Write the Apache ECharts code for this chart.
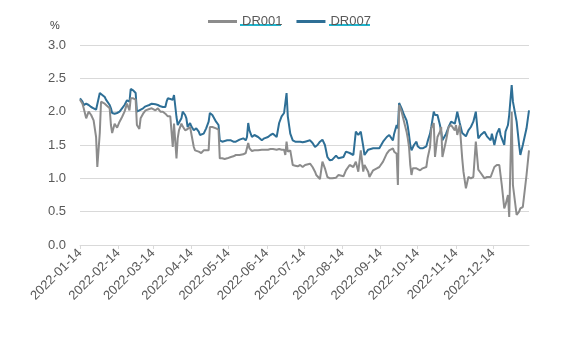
<!DOCTYPE html>
<html>
<head>
<meta charset="utf-8">
<script src="https://cdn.jsdelivr.net/npm/echarts@6/dist/echarts.min.js"></script>
<style>html,body{margin:0;padding:0;background:#fff;}#c{width:571px;height:337px;}</style>
</head>
<body>
<div id="c"></div>
<script>
var dates = [
'2022-01-14','2022-01-16','2022-01-17','2022-01-19','2022-01-21','2022-01-23','2022-01-25','2022-01-27','2022-01-28','2022-01-30',
'2022-01-31','2022-02-03','2022-02-04','2022-02-07','2022-02-08','2022-02-09','2022-02-11','2022-02-13','2022-02-15','2022-02-17',
'2022-02-19','2022-02-21','2022-02-23','2022-02-24','2022-02-26','2022-02-28','2022-03-01','2022-03-03','2022-03-04','2022-03-06',
'2022-03-08','2022-03-11','2022-03-13','2022-03-16','2022-03-18','2022-03-20','2022-03-22','2022-03-24','2022-03-25','2022-03-26',
'2022-03-28','2022-03-30','2022-03-31','2022-04-02','2022-04-03','2022-04-04','2022-04-06','2022-04-07','2022-04-09','2022-04-10',
'2022-04-11','2022-04-13','2022-04-14','2022-04-16','2022-04-17','2022-04-18','2022-04-20','2022-04-21','2022-04-22','2022-04-24',
'2022-04-25','2022-04-26','2022-04-28','2022-04-29','2022-05-01','2022-05-02','2022-05-04','2022-05-06','2022-05-07','2022-05-09',
'2022-05-11','2022-05-13','2022-05-16','2022-05-18','2022-05-20','2022-05-23','2022-05-26','2022-05-28','2022-05-29','2022-05-30',
'2022-05-31','2022-06-02','2022-06-04','2022-06-07','2022-06-10','2022-06-12','2022-06-15','2022-06-17','2022-06-19','2022-06-20',
'2022-06-22','2022-06-24','2022-06-26','2022-06-28','2022-06-29','2022-06-30','2022-07-01','2022-07-03','2022-07-05','2022-07-07',
'2022-07-09','2022-07-11','2022-07-13','2022-07-15','2022-07-19','2022-07-20','2022-07-21','2022-07-23','2022-07-24','2022-07-25',
'2022-07-27','2022-07-29','2022-07-31','2022-08-02','2022-08-04','2022-08-06','2022-08-09','2022-08-11','2022-08-12','2022-08-15',
'2022-08-17','2022-08-20','2022-08-23','2022-08-25','2022-08-27','2022-08-29','2022-08-31','2022-09-01','2022-09-04','2022-09-05',
'2022-09-08','2022-09-11','2022-09-13','2022-09-16','2022-09-19','2022-09-21','2022-09-24','2022-09-25','2022-09-27','2022-09-28',
'2022-09-29','2022-10-01','2022-10-03','2022-10-05','2022-10-06','2022-10-07','2022-10-08','2022-10-09','2022-10-10','2022-10-11',
'2022-10-13','2022-10-14','2022-10-16','2022-10-18','2022-10-21','2022-10-22','2022-10-24','2022-10-25','2022-10-27','2022-10-28',
'2022-10-30','2022-11-01','2022-11-02','2022-11-03','2022-11-06','2022-11-08','2022-11-10','2022-11-11','2022-11-13','2022-11-14',
'2022-11-15','2022-11-17','2022-11-19','2022-11-20','2022-11-22','2022-11-24','2022-11-26','2022-11-28','2022-11-30','2022-12-02',
'2022-12-04','2022-12-07','2022-12-09','2022-12-10','2022-12-12','2022-12-13','2022-12-15','2022-12-17','2022-12-19','2022-12-20',
'2022-12-21','2022-12-23','2022-12-24','2022-12-26','2022-12-27','2022-12-29','2022-12-30','2023-01-02','2023-01-04','2023-01-05',
'2023-01-07','2023-01-10','2023-01-12'
];
var dr007 = [
2.20,2.15,2.10,2.12,2.10,2.07,2.05,2.03,2.05,2.28,
2.26,2.22,2.18,2.10,2.05,1.98,1.97,1.98,2.00,2.05,
2.10,2.17,2.15,2.34,2.32,2.28,2.00,2.02,2.05,2.05,
2.08,2.10,2.12,2.11,2.10,2.08,2.07,2.07,2.15,2.20,
2.19,2.18,2.25,1.92,1.80,1.82,1.90,2.00,1.95,1.90,
1.77,1.83,1.78,1.72,1.70,1.75,1.70,1.65,1.67,1.67,
1.70,1.75,1.85,1.98,1.95,1.93,1.85,1.80,1.57,1.55,
1.56,1.57,1.57,1.55,1.55,1.58,1.60,1.57,1.62,1.83,
1.72,1.62,1.65,1.62,1.57,1.60,1.62,1.65,1.67,1.70,
1.62,1.83,1.93,1.98,2.00,2.28,1.93,1.67,1.57,1.55,
1.55,1.55,1.54,1.55,1.57,1.55,1.53,1.47,1.50,1.50,
1.55,1.58,1.50,1.32,1.27,1.28,1.34,1.30,1.31,1.32,
1.40,1.38,1.35,1.70,1.65,1.70,1.48,1.35,1.43,1.45,
1.45,1.45,1.45,1.55,1.62,1.65,1.57,1.67,1.80,1.75,
2.13,2.05,1.95,1.87,1.78,1.65,1.50,1.42,1.45,1.50,
1.55,1.48,1.45,1.45,1.48,1.55,1.67,1.77,2.00,1.95,
1.95,1.80,1.70,1.57,1.67,1.77,1.85,1.83,1.82,1.90,
2.00,1.83,1.68,1.65,1.63,1.72,1.77,1.85,2.00,1.60,
1.65,1.70,1.63,1.65,1.57,1.67,1.50,1.67,1.75,1.65,
1.60,1.50,1.70,1.80,1.95,2.40,2.15,1.85,1.50,1.35,
1.50,1.75,2.02
];
var dr001 = [
2.18,2.12,2.05,1.90,2.00,1.95,1.87,1.62,1.17,1.68,
2.15,2.12,2.10,2.05,1.80,1.68,1.82,1.76,1.85,1.92,
2.00,2.12,2.02,2.20,2.20,2.18,1.80,1.74,1.90,1.97,
2.02,2.04,2.05,2.02,2.05,2.00,2.00,1.97,1.95,1.93,
1.93,1.47,1.82,1.30,1.60,1.72,1.82,1.78,1.72,1.75,
1.74,1.77,1.77,1.47,1.42,1.42,1.40,1.40,1.38,1.42,
1.42,1.42,1.42,1.77,1.77,1.77,1.75,1.73,1.30,1.30,
1.29,1.30,1.32,1.33,1.35,1.35,1.36,1.38,1.40,1.53,
1.45,1.41,1.42,1.42,1.43,1.43,1.43,1.44,1.44,1.44,
1.43,1.44,1.43,1.43,1.35,1.55,1.40,1.42,1.20,1.19,
1.18,1.20,1.17,1.20,1.22,1.25,1.17,1.10,1.05,1.02,
0.99,1.25,1.15,1.02,1.00,1.00,1.01,1.05,1.04,1.03,
1.12,1.20,1.17,1.25,1.10,1.42,1.10,1.20,1.10,1.02,
1.12,1.15,1.17,1.25,1.37,1.42,1.45,1.40,1.37,0.90,
2.10,2.00,1.85,1.70,1.60,1.47,1.20,1.05,1.15,1.18,
1.15,1.13,1.12,1.15,1.17,1.30,1.47,1.75,1.83,1.32,
1.62,1.70,1.77,1.32,1.57,1.77,1.80,1.78,1.72,1.80,
1.65,1.80,1.30,1.10,0.85,1.02,1.00,1.02,1.55,1.13,
1.08,1.00,1.02,1.02,1.02,1.05,1.17,1.20,1.20,1.17,
0.90,0.55,0.60,0.75,0.42,2.00,0.90,0.45,0.50,0.55,
0.57,1.05,1.42
];
var tickLabels = ['2022-01-14','2022-02-14','2022-03-14','2022-04-14','2022-05-14','2022-06-14',
'2022-07-14','2022-08-14','2022-09-14','2022-10-14','2022-11-14','2022-12-14'];
var axisStart = '2022-01-14', axisEnd = '2023-01-12';
var yTicks = [0, 0.5, 1.0, 1.5, 2.0, 2.5, 3.0];

function ts(s){ var p = s.split('-'); return new Date(+p[0], +p[1]-1, +p[2]).getTime(); }
function fmt(v){ var d = new Date(v); var m = d.getMonth()+1, dd = d.getDate();
  return d.getFullYear()+'-'+(m<10?'0':'')+m+'-'+(dd<10?'0':'')+dd; }
var tickTs = tickLabels.map(ts);
var s1 = dates.map(function(d,i){ return [ts(d), dr001[i]]; });
var s7 = dates.map(function(d,i){ return [ts(d), dr007[i]]; });

var chart = echarts.init(document.getElementById('c'), null, {renderer:'canvas'});
chart.setOption({
  animation: false,
  backgroundColor: '#ffffff',
  textStyle: {fontFamily: 'Liberation Sans, Arial, sans-serif'},
  title: {text: '%', left: 45, top: 15, textStyle: {fontSize: 11, fontWeight: 'normal', color: '#404040'}},
  legend: {
    left: 203, top: 10, itemWidth: 29, itemHeight: 3, itemGap: 14, icon: 'rect',
    textStyle: {fontSize: 13, color: '#595959'},
    data: ['DR001', 'DR007']
  },
  graphic: [
    {type: 'rect', left: 240, top: 24, shape: {width: 41, height: 2}, style: {fill: '#1fb4cc'}, silent: true},
    {type: 'rect', left: 329, top: 24, shape: {width: 41, height: 2}, style: {fill: '#1fb4cc'}, silent: true}
  ],
  grid: {left: 80, right: 42, top: 45, bottom: 92, containLabel: false},
  xAxis: {
    type: 'value',
    min: ts(axisStart), max: ts(axisEnd), scale: true,
    axisLine: {show: true, lineStyle: {color: '#d9d9d9', width: 1}},
    axisTick: {show: true, length: 4, lineStyle: {color: '#d9d9d9'}, customValues: tickTs},
    axisLabel: {customValues: tickTs, rotate: 45, fontSize: 13, color: '#595959', margin: 6,
      formatter: function(v){ return fmt(v); }},
    splitLine: {show: false},
    minorTick: {show: false}
  },
  yAxis: {
    type: 'value', min: yTicks[0], max: yTicks[yTicks.length-1], interval: 0.5,
    axisLine: {show: false}, axisTick: {show: false},
    axisLabel: {fontSize: 13, color: '#595959', margin: 14, formatter: function(v){ return v.toFixed(1); }},
    splitLine: {show: true, lineStyle: {color: '#d9d9d9', width: 1}}
  },
  series: [
    {name: 'DR001', type: 'line', data: s1, showSymbol: false, symbol: 'none',
      lineStyle: {color: '#8c8c8c', width: 2}, itemStyle: {color: '#8c8c8c'}, z: 2},
    {name: 'DR007', type: 'line', data: s7, showSymbol: false, symbol: 'none',
      lineStyle: {color: '#2e6f96', width: 2}, itemStyle: {color: '#2e6f96'}, z: 1}
  ]
});
</script>
</body>
</html>
